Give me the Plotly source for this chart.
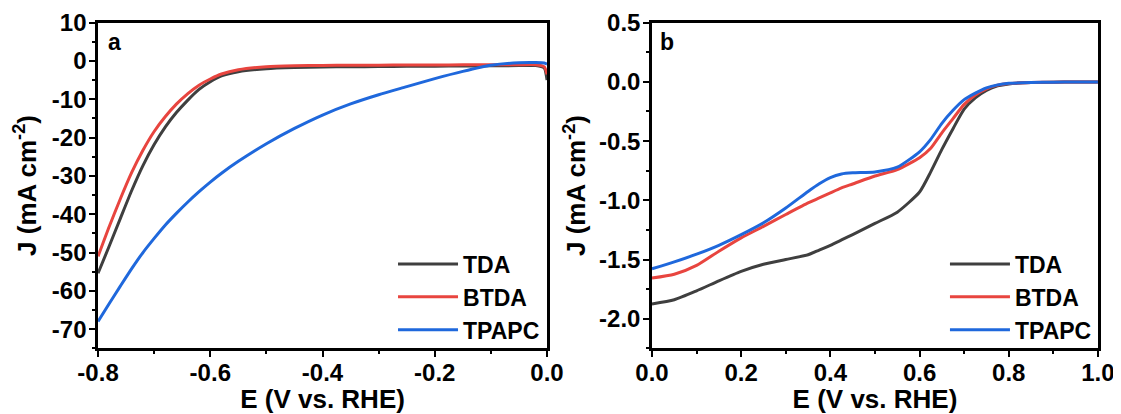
import plotly.graph_objects as go

# ---------------- data ----------------
names = ["TDA", "BTDA", "TPAPC"]
colors = ["#3f3f3f", "#e8453f", "#1f68dc"]

# panel a: LSV (HER)
E_a = [-0.80, -0.78, -0.76, -0.74, -0.72, -0.70, -0.68, -0.66, -0.64, -0.62, -0.60, -0.58,
       -0.55, -0.50, -0.45, -0.40, -0.35, -0.30, -0.25, -0.20, -0.15, -0.10, -0.05, -0.02,
       -0.005, 0.0]
TDA_a = [-55.4, -48.3, -41.0, -33.8, -27.3, -21.8, -17.2, -13.4, -10.2, -7.4, -5.4, -3.9,
         -2.8, -2.0, -1.7, -1.55, -1.5, -1.45, -1.4, -1.35, -1.3, -1.25, -1.2, -1.2,
         -1.8, -5.0]
BTDA_a = [-51.0, -43.2, -35.9, -29.1, -23.3, -18.4, -14.5, -11.2, -8.5, -6.3, -4.7, -3.4,
          -2.3, -1.5, -1.25, -1.15, -1.1, -1.08, -1.05, -1.03, -1.0, -1.0, -0.98, -0.98,
          -1.5, -3.5]
TPAPC_a = [-68.0, -63.3, -58.7, -54.2, -50.0, -46.3, -42.8, -39.7, -36.8, -34.1, -31.6, -29.3,
           -26.2, -21.6, -17.6, -14.1, -11.2, -8.8, -6.7, -4.6, -2.7, -1.1, -0.45, -0.4,
           -0.5, -0.8]

# panel b: LSV (ORR)
E_b = [0.00, 0.05, 0.10, 0.15, 0.20, 0.25, 0.30, 0.35, 0.375, 0.40, 0.425, 0.45, 0.50, 0.55,
       0.60, 0.625, 0.65, 0.675, 0.70, 0.725, 0.75, 0.775, 0.80, 0.85, 0.90, 0.95, 1.00]
TDA_b = [-1.875, -1.84, -1.765, -1.68, -1.60, -1.54, -1.50, -1.46, -1.42, -1.38, -1.335, -1.29,
         -1.195, -1.10, -0.93, -0.76, -0.57, -0.395, -0.23, -0.135, -0.072, -0.034, -0.017,
         -0.006, -0.002, -0.001, 0.0]
BTDA_b = [-1.657, -1.625, -1.55, -1.43, -1.317, -1.22, -1.12, -1.022, -0.98, -0.937, -0.895,
          -0.862, -0.795, -0.74, -0.64, -0.56, -0.43, -0.31, -0.19, -0.11, -0.058, -0.027,
          -0.013, -0.005, -0.002, -0.001, 0.0]
TPAPC_b = [-1.578, -1.52, -1.455, -1.38, -1.29, -1.19, -1.065, -0.925, -0.86, -0.808, -0.778,
           -0.768, -0.76, -0.72, -0.59, -0.485, -0.35, -0.24, -0.15, -0.095, -0.05, -0.025,
           -0.012, -0.005, -0.002, -0.001, 0.0]

# tick labels
xa_ticks = [-0.8, -0.6, -0.4, -0.2, 0.0]
xa_text = ["-0.8", "-0.6", "-0.4", "-0.2", "0.0"]
ya_ticks = [10, 0, -10, -20, -30, -40, -50, -60, -70]
ya_text = ["10", "0", "-10", "-20", "-30", "-40", "-50", "-60", "-70"]
xb_ticks = [0.0, 0.2, 0.4, 0.6, 0.8, 1.0]
xb_text = ["0.0", "0.2", "0.4", "0.6", "0.8", "1.0"]
yb_ticks = [0.5, 0.0, -0.5, -1.0, -1.5, -2.0]
yb_text = ["0.5", "0.0", "-0.5", "-1.0", "-1.5", "-2.0"]

series_a = [TDA_a, BTDA_a, TPAPC_a]
series_b = [TDA_b, BTDA_b, TPAPC_b]

# ---------------- figure ----------------
FONT = "Liberation Sans, Arial, sans-serif"
fig = go.Figure()

for n, c, ya in zip(names, colors, series_a):
    fig.add_trace(go.Scatter(x=E_a, y=ya, name=n, mode="lines",
                             line=dict(color=c, width=3, shape="spline", smoothing=0.6),
                             xaxis="x", yaxis="y", legend="legend"))
for n, c, yb in zip(names, colors, series_b):
    fig.add_trace(go.Scatter(x=E_b, y=yb, name=n, mode="lines",
                             line=dict(color=c, width=3, shape="spline", smoothing=0.6),
                             xaxis="x2", yaxis="y2", legend="legend2"))

tickfont = dict(family=FONT, size=24, color="black", weight="bold")
titlefont = dict(family=FONT, size=26, color="black", weight="bold")
legfont = dict(family=FONT, size=23, color="black", weight="bold")

def ax_common():
    return dict(showline=True, linewidth=2.5, linecolor="black", mirror=True,
                ticks="outside", ticklen=6, tickwidth=2, tickcolor="black",
                showgrid=False, zeroline=False, tickfont=tickfont, automargin=False,
                tickmode="array")

yd = [0.1618, 0.9638]

fig.update_layout(
    template="none",
    width=1113, height=406,
    margin=dict(l=0, r=0, t=0, b=0),
    paper_bgcolor="white", plot_bgcolor="white",
    showlegend=True,
    xaxis=dict(domain=[0.0809, 0.4843], range=[-0.8, 0.0], tickvals=xa_ticks, ticktext=xa_text,
               anchor="y", ticklabelstandoff=-5,
               minor=dict(ticks="outside", ticklen=3, tickwidth=1.5, dtick=0.1, tickcolor="black"),
               title=dict(text="E (V vs. RHE)", font=titlefont, standoff=4),
               **ax_common()),
    yaxis=dict(domain=yd, range=[-75, 10], tickvals=ya_ticks, ticktext=ya_text, anchor="x",
               ticklabelstandoff=-2,
               minor=dict(ticks="outside", ticklen=3, tickwidth=1.5, dtick=5, tickcolor="black"),
               title=dict(text="J (mA cm<sup>-2</sup>)", font=titlefont, standoff=8),
               **ax_common()),
    xaxis2=dict(domain=[0.5786, 0.9793], range=[0.0, 1.0], tickvals=xb_ticks, ticktext=xb_text,
                anchor="y2", ticklabelstandoff=-5,
                minor=dict(ticks="outside", ticklen=3, tickwidth=1.5, dtick=0.1, tickcolor="black"),
                title=dict(text="E (V vs. RHE)", font=titlefont, standoff=4),
                **ax_common()),
    yaxis2=dict(domain=yd, range=[-2.25, 0.5], tickvals=yb_ticks, ticktext=yb_text, anchor="x2",
                ticklabelstandoff=-2,
                minor=dict(ticks="outside", ticklen=3, tickwidth=1.5, dtick=0.25, tickcolor="black"),
                title=dict(text="J (mA cm<sup>-2</sup>)", font=titlefont, standoff=6),
                **ax_common()),
    legend=dict(x=0.4825, y=0.154, xanchor="right", yanchor="bottom",
                bgcolor="rgba(0,0,0,0)", borderwidth=0, itemwidth=60,
                font=legfont, tracegroupgap=0),
    legend2=dict(x=0.9784, y=0.154, xanchor="right", yanchor="bottom",
                 bgcolor="rgba(0,0,0,0)", borderwidth=0, itemwidth=60,
                 font=legfont, tracegroupgap=0),
    annotations=[
        dict(text="a", xref="x domain", yref="y domain", x=0.018, y=0.94,
             xanchor="left", yanchor="middle", showarrow=False,
             font=dict(family=FONT, size=23, color="black", weight="bold")),
        dict(text="b", xref="x2 domain", yref="y2 domain", x=0.013, y=0.94,
             xanchor="left", yanchor="middle", showarrow=False,
             font=dict(family=FONT, size=23, color="black", weight="bold")),
    ],
)

fig.write_html("out.html")
